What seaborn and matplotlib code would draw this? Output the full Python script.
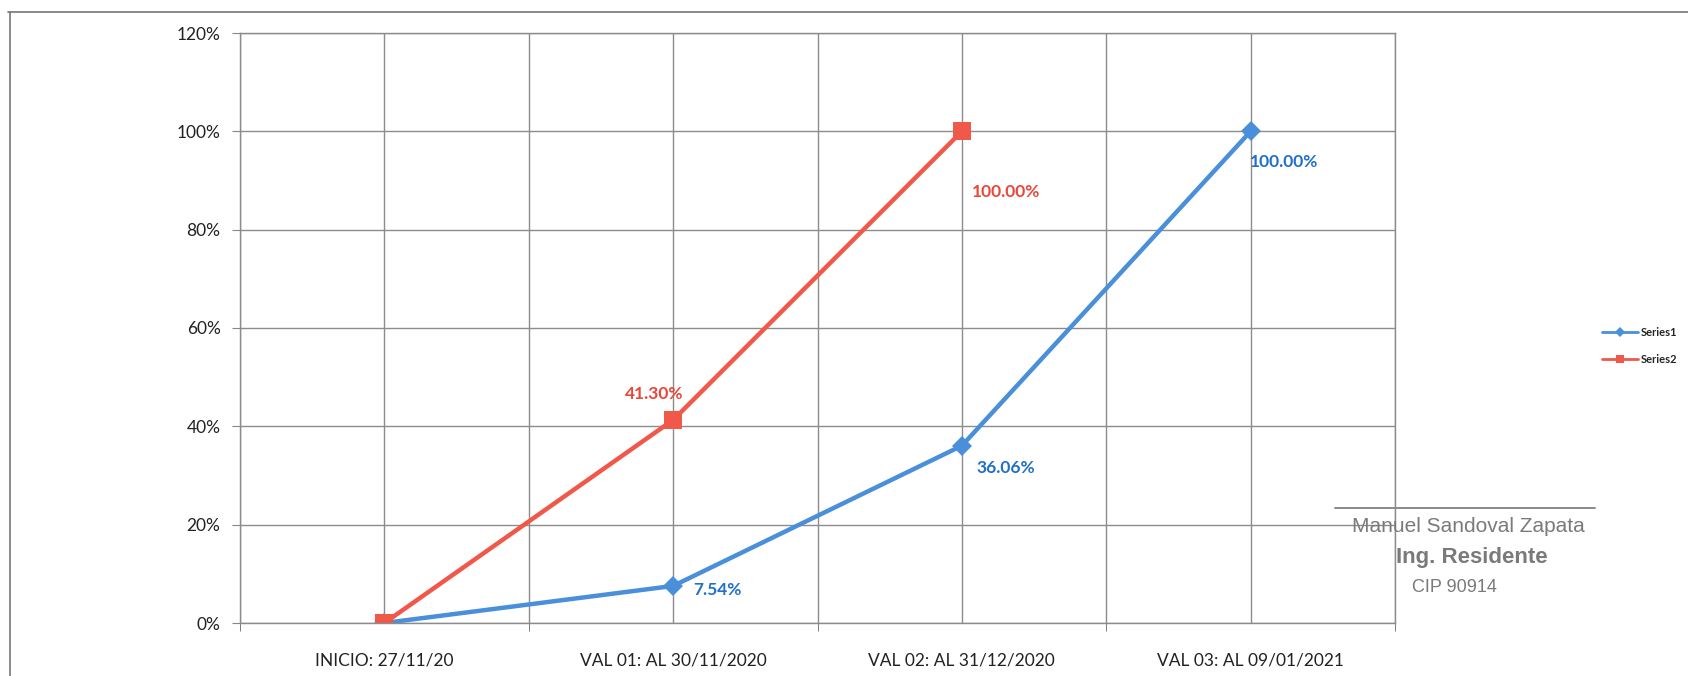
import pandas as pd
import seaborn as sns
import matplotlib.pyplot as plt
from matplotlib.lines import Line2D

categories = ["INICIO: 27/11/20", "VAL 01: AL 30/11/2020",
              "VAL 02: AL 31/12/2020", "VAL 03: AL 09/01/2021"]
series1 = [0.0, 0.0754, 0.3606, 1.0]
series2 = [0.0, 0.4130, 1.0]
y_ticks = [0.0, 0.2, 0.4, 0.6, 0.8, 1.0, 1.2]

blue = "#4A8FD9"
red = "#F0584A"
blue_txt = "#1F6FCB"
red_txt = "#E8483A"

rows = []
for i, v in enumerate(series1):
    rows.append({"pos": i, "value": v, "serie": "Series1"})
for i, v in enumerate(series2):
    rows.append({"pos": i, "value": v, "serie": "Series2"})
df = pd.DataFrame(rows)

sns.set_style("white")
plt.rcParams['font.family'] = ['Lato', 'DejaVu Sans']

fig = plt.figure(figsize=(16.88, 6.76), dpi=100)
ax = fig.add_axes([240 / 1688, 53 / 676, 1155 / 1688, 590 / 676])

sns.lineplot(data=df, x="pos", y="value", hue="serie", style="serie",
             palette={"Series1": blue, "Series2": red},
             markers={"Series1": "D", "Series2": "s"}, dashes=False,
             markersize=10, linewidth=3.2, markeredgewidth=0, ax=ax, legend=False)
# bigger square for series2
for ln in ax.lines:
    if ln.get_marker() == "s":
        ln.set_markersize(13)

ax.set_xlim(-0.5, 3.5)
ax.set_ylim(0, 1.2)
ax.set_yticks(y_ticks)
ax.set_yticklabels([f"{int(round(t * 100))}%" for t in y_ticks])
ax.set_xticks(range(len(categories)))
ax.set_xticklabels(categories)
ax.set_xticks([-0.5, 0.5, 1.5, 2.5, 3.5], minor=True)
ax.set_xlabel("")
ax.set_ylabel("")

ax.grid(True, which="major", color="#8c8c8c", linewidth=1.0)
ax.grid(True, which="minor", axis="x", color="#8c8c8c", linewidth=1.0)
ax.set_axisbelow(True)
for s in ax.spines.values():
    s.set_color("#8c8c8c")
    s.set_linewidth(1.0)

ax.tick_params(axis="x", which="major", length=0, pad=21, labelsize=12.5, labelcolor="#222222")
ax.tick_params(axis="x", which="minor", length=6, direction="out", color="#666666", bottom=True)
ax.tick_params(axis="y", length=6, direction="out", color="#888888", left=True,
               pad=8, labelsize=12.5, labelcolor="#222222")

# data labels
lbl1 = [None, (20, -4, "left"), (15, -22, "left"), (-1, -31, "left")]
lbl2 = [None, (10, 26, "right"), (10, -61, "left")]
for i, v in enumerate(series1):
    if lbl1[i]:
        dx, dy, ha = lbl1[i]
        ax.annotate(f"{v * 100:.2f}%", (i, v), xytext=(dx, dy), textcoords="offset pixels",
                    ha=ha, va="center", color=blue_txt, fontsize=12.5, fontweight="bold")
for i, v in enumerate(series2):
    if lbl2[i]:
        dx, dy, ha = lbl2[i]
        ax.annotate(f"{v * 100:.2f}%", (i, v), xytext=(dx, dy), textcoords="offset pixels",
                    ha=ha, va="center", color=red_txt, fontsize=12.5, fontweight="bold")

# legend at right
handles = [Line2D([], [], color=blue, marker="D", markersize=5, linewidth=2, markeredgewidth=0),
           Line2D([], [], color=red, marker="s", markersize=6, linewidth=2, markeredgewidth=0)]
fig.legend(handles, ["Series1", "Series2"], loc="center left",
           bbox_to_anchor=(1592 / 1688, 1 - 346 / 676), frameon=False,
           handlelength=3.2, handletextpad=0.3, labelspacing=1.4,
           prop={"family": ["Lato", "DejaVu Sans"], "size": 8, "weight": "bold"})

# outer chart frame
fig.add_artist(Line2D([8 / 1688, 1], [1 - 12 / 676, 1 - 12 / 676],
                      transform=fig.transFigure, color="#777777", linewidth=1.2))
fig.add_artist(Line2D([10 / 1688, 10 / 1688], [0, 1 - 12 / 676],
                      transform=fig.transFigure, color="#777777", linewidth=1.2))

# stamp
fig.add_artist(Line2D([1335 / 1688, 1595 / 1688], [1 - 508 / 676, 1 - 508 / 676],
                      transform=fig.transFigure, color="#8a8a8a", linewidth=1.4))
fig.text(1468 / 1688, 1 - 527 / 676, "Manuel Sandoval Zapata", ha="center", va="center",
         color="#7a7a7a", fontsize=15, family="Liberation Sans")
fig.text(1472 / 1688, 1 - 557 / 676, "Ing. Residente", ha="center", va="center",
         color="#7a7a7a", fontsize=16, fontweight="bold", family="Liberation Sans")
fig.text(1454 / 1688, 1 - 587 / 676, "CIP 90914", ha="center", va="center",
         color="#7a7a7a", fontsize=13, family="Liberation Sans")

fig.savefig("out.png", dpi=100)
